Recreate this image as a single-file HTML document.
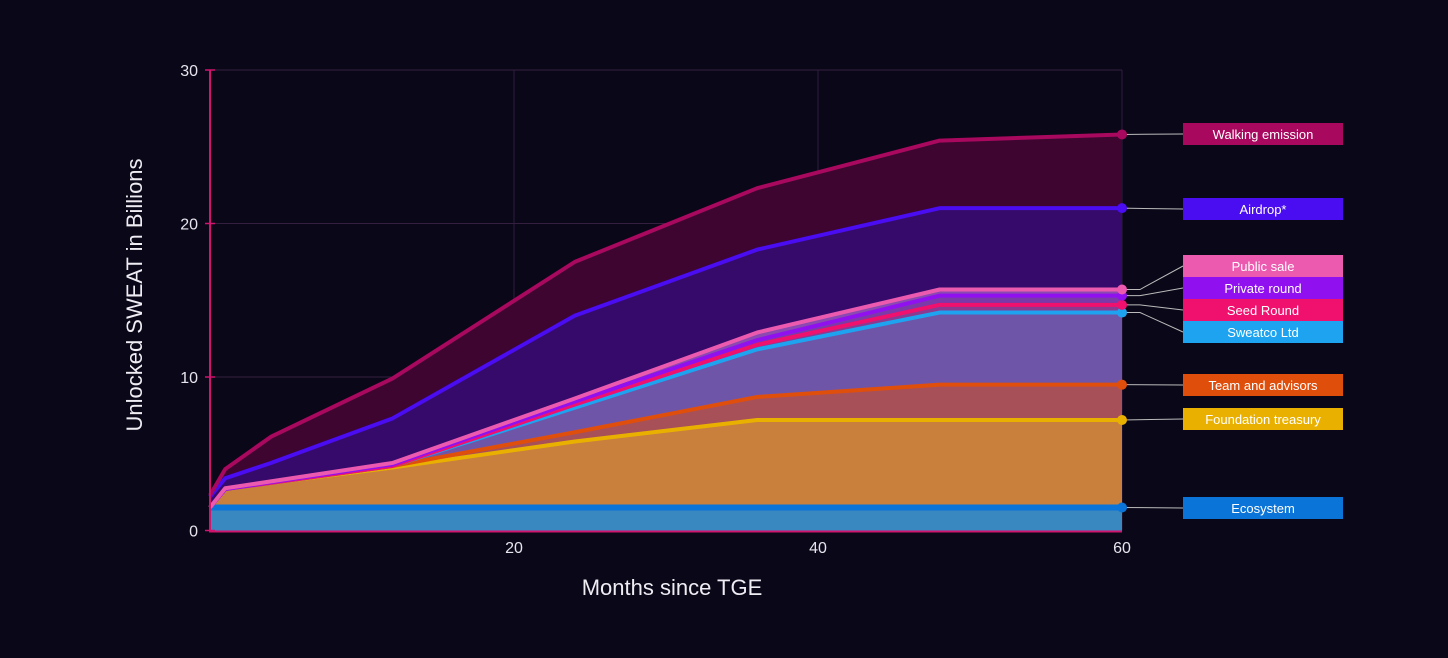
<!DOCTYPE html>
<html><head><meta charset="utf-8"><style>
body{margin:0;background:#0a0718;}
svg{display:block;font-family:"Liberation Sans",sans-serif;}
</style></head><body>
<svg id="chart" width="1448" height="658" viewBox="0 0 1448 658"></svg>
<script>
const months=[0,1,4,12,24,36,48,60];
const seriesNames=["Ecosystem","Foundation treasury","Team and advisors","Sweatco Ltd","Seed Round","Private round","Public sale","Airdrop*","Walking emission"];
const ecosystem=[1.5,1.5,1.5,1.5,1.5,1.5,1.5,1.5];
const foundation=[1.5,2.7,3.1,4.1,5.8,7.2,7.2,7.2];
const team=[1.5,2.7,3.1,4.2,6.4,8.7,9.5,9.5];
const sweatco=[1.5,2.7,3.1,4.2,8.0,11.8,14.2,14.2];
const seed=[1.5,2.7,3.1,4.2,8.2,12.1,14.7,14.7];
const privateRound=[1.5,2.7,3.15,4.3,8.4,12.4,15.3,15.3];
const publicSale=[1.5,2.75,3.2,4.4,8.6,12.9,15.7,15.7];
const airdrop=[2.2,3.4,4.4,7.3,14.0,18.3,21.0,21.0];
const walking=[2.3,4.0,6.1,9.9,17.5,22.3,25.4,25.8];
const xTicks=[20,40,60];
const yTicks=[0,10,20,30];
const legendY=[508,419,385,332,310,288,266,209,134];

const NS="http://www.w3.org/2000/svg";
const svg=document.getElementById('chart');
const X=v=>210+v*15.2;
const Y=v=>530.5-v*15.35;
function mk(t,a,p){const e=document.createElementNS(NS,t);for(const k in a)e.setAttribute(k,a[k]);(p||svg).appendChild(e);return e;}

// grid
xTicks.forEach(t=>{const l=mk('line',{x1:X(t),x2:X(t),y1:Y(30),y2:Y(0),stroke:'#2e1c3e','stroke-width':1});

});
yTicks.forEach(t=>{if(t===0)return;const l=mk('line',{x1:X(0),x2:X(60),y1:Y(t),y2:Y(t),stroke:'#34203e','stroke-width':1});

});

const series=[
 {vals:ecosystem,line:'#0a74d8',fill:'#3a88c0',name:'ecosystem'},
 {vals:foundation,line:'#eab000',fill:'#c8803c',name:'foundation-treasury'},
 {vals:team,line:'#e04e0c',fill:'#a85058',name:'team-and-advisors'},
 {vals:sweatco,line:'#1ea3f0',fill:'#6f55a8',name:'sweatco-ltd'},
 {vals:seed,line:'#f0106e',fill:'#8a3a90',name:'seed-round'},
 {vals:privateRound,line:'#9010f0',fill:'#7a3aa8',name:'private-round'},
 {vals:publicSale,line:'#ec5ab0',fill:'#8a4ab0',name:'public-sale'},
 {vals:airdrop,line:'#4a0cf0',fill:'#360a6a',name:'airdrop'},
 {vals:walking,line:'#a8085e',fill:'#3d0530',name:'walking-emission'}
];
for(let i=series.length-1;i>=0;i--){
 const s=series[i];
 const lower=i>0?series[i-1].vals:months.map(()=>0);
 let d='M'+months.map((m,j)=>X(m)+','+Y(s.vals[j])).join('L');
 for(let j=months.length-1;j>=0;j--)d+='L'+X(months[j])+','+Y(lower[j]);
 const p=mk('path',{d:d+'Z',fill:s.fill});
 
 
}
series.forEach(s=>{
 const p=mk('polyline',{points:months.map((m,j)=>X(m)+','+Y(s.vals[j])).join(' '),fill:'none',stroke:s.line,'stroke-width':s.name==='ecosystem'?6:4,'stroke-linejoin':'round'});
 
 
});
const ax=mk('line',{x1:X(0),x2:X(0),y1:Y(30),y2:Y(0)+1,stroke:'#d0156e','stroke-width':2});


const bx=mk('line',{x1:X(0)-1,x2:X(60),y1:Y(0)+1,y2:Y(0)+1,stroke:'#d0156e','stroke-width':2});


yTicks.forEach(t=>{
 mk('line',{x1:X(0)-5,x2:X(0)+5,y1:Y(t),y2:Y(t),stroke:'#d0156e','stroke-width':1.5});
 const tx=mk('text',{x:198,y:Y(t)+6,'text-anchor':'end',fill:'#e8e4ee','font-size':16});tx.textContent=t;
 
 
});
xTicks.forEach(t=>{
 const tx=mk('text',{x:X(t),y:553,'text-anchor':'middle',fill:'#e8e4ee','font-size':16});tx.textContent=t;
 
 
});
const xt=mk('text',{x:672,y:595,'text-anchor':'middle',fill:'#f0ecf4','font-size':22});xt.textContent='Months since TGE';


const yt=mk('text',{x:0,y:0,'text-anchor':'middle',fill:'#f0ecf4','font-size':22,transform:'translate(142,295) rotate(-90)'});yt.textContent='Unlocked SWEAT in Billions';



const legendColors=['#0a74d8','#eab000','#e04e0c','#1ea3f0','#f0106e','#9010f0','#ec5ab0','#4a0cf0','#a8085e'];
series.forEach((s,i)=>{
 const vy=Y(s.vals[s.vals.length-1]);const ly=legendY[i];
 const pts=Math.abs(vy-ly)<2?`${X(60)},${vy} 1183,${ly}`:`${X(60)},${vy} 1140,${vy} 1183,${ly}`;
 mk('polyline',{points:pts,fill:'none',stroke:'#bbbbbb','stroke-width':1});
 const c=mk('circle',{cx:X(60),cy:vy,r:5,fill:s.line});
 
 
 const g=mk('g',{});
 
 
 mk('rect',{x:1183,y:ly-11,width:160,height:22,fill:legendColors[i]},g);
 const t=mk('text',{x:1263,y:ly+5,'text-anchor':'middle',fill:'#ffffff','font-size':13},g);t.textContent=seriesNames[i];
});
</script>
</body></html>
